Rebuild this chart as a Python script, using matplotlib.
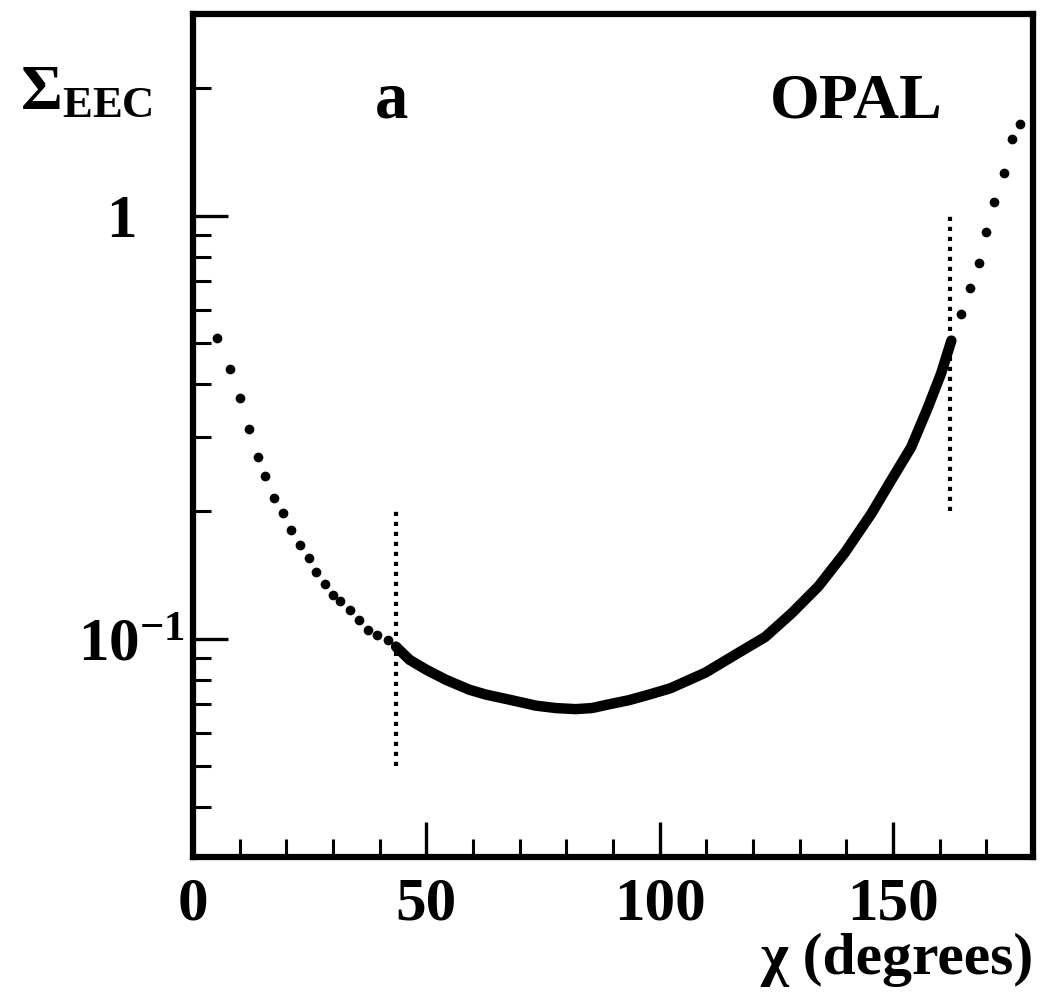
import matplotlib
matplotlib.use("Agg")
import matplotlib.pyplot as plt
from matplotlib.ticker import FixedLocator, LogLocator, NullFormatter, MultipleLocator
from matplotlib.transforms import ScaledTranslation

# EEC data
left_x = [5.1, 7.9, 10.0, 12.0, 13.9, 15.4, 17.3, 19.2, 21.1, 22.9, 24.8, 26.4,
          28.2, 29.9, 31.6, 33.6, 35.5, 37.4, 39.5, 41.7]
left_y = [0.513, 0.435, 0.370, 0.313, 0.269, 0.242, 0.215, 0.198, 0.181, 0.167,
          0.155, 0.144, 0.135, 0.127, 0.123, 0.117, 0.111, 0.105, 0.102, 0.0995]

mid_x = [43.5, 46.4, 50.0, 54.2, 59.2, 62.8, 67.8, 73.5, 77.7, 82.0, 85.5, 89.1,
         93.4, 97.7, 102.3, 109.8, 116.9, 122.6, 128.3, 134.0, 139.7, 145.4,
         149.6, 153.9, 157.5, 160.3, 162.5]
mid_y = [0.0958, 0.0892, 0.0845, 0.080, 0.0758, 0.0738, 0.0718, 0.0695, 0.0686,
         0.0682, 0.0686, 0.0700, 0.0716, 0.0738, 0.0764, 0.0832, 0.0927, 0.101,
         0.115, 0.133, 0.160, 0.198, 0.237, 0.284, 0.353, 0.424, 0.507]

right_x = [164.6, 166.5, 168.4, 169.9, 171.7, 173.8, 175.5, 177.2]
right_y = [0.587, 0.676, 0.774, 0.916, 1.08, 1.26, 1.52, 1.65]

# fit range markers
vline_x = [43.5, 162.2]
vline_lo = [0.05, 0.2]
vline_hi = [0.2, 1.0]

x_ticks = [0, 50, 100, 150]
x_ticklabels = ["0", "50", "100", "150"]
y_ticks = [0.1, 1]
y_ticklabels = [r"$\mathbf{10^{-1}}$", "1"]

plt.rcParams["font.family"] = ["Liberation Serif", "DejaVu Serif"]
plt.rcParams["font.weight"] = "bold"
plt.rcParams["axes.unicode_minus"] = False
plt.rcParams["mathtext.fontset"] = "custom"
plt.rcParams["mathtext.rm"] = "Liberation Serif"
plt.rcParams["mathtext.bf"] = "Liberation Serif:bold"
plt.rcParams["mathtext.it"] = "Liberation Serif:italic"

fig = plt.figure(figsize=(10.4, 10.01), dpi=100)
ax = fig.add_axes([0.1856, 0.1439, 0.8077, 0.8421])

ax.plot(left_x, left_y, "o", color="black", ms=7, mec="none")
ax.plot(mid_x, mid_y, "-", color="black", lw=7.5, solid_capstyle="round")
ax.plot(right_x, right_y, "o", color="black", ms=7, mec="none")
ax.vlines(vline_x, vline_lo, vline_hi, colors="black", lw=3, linestyles=(0, (1, 1.4)))

ax.set_yscale("log")
ax.set_xlim(0, 180)
ax.set_ylim(0.0305, 3.0)

for sp in ax.spines.values():
    sp.set_linewidth(4.5)

ax.xaxis.set_major_locator(FixedLocator(x_ticks))
ax.xaxis.set_minor_locator(MultipleLocator(10))
ax.set_xticklabels(x_ticklabels)
ax.yaxis.set_major_locator(FixedLocator(y_ticks))
ax.yaxis.set_minor_locator(LogLocator(base=10, subs=range(2, 10)))
ax.yaxis.set_minor_formatter(NullFormatter())
ax.set_yticklabels(y_ticklabels)

ax.tick_params(which="both", direction="in", top=False, right=False)
ax.tick_params(which="major", length=25, width=2.4)
ax.tick_params(which="minor", length=13, width=2.2)
ax.tick_params(axis="x", which="major", labelsize=44, pad=14)
ax.tick_params(axis="y", which="major", labelsize=44, pad=6)

# the "1" label sits further left than 10^-1 in the original
for lab, val in zip(ax.get_yticklabels(), y_ticks):
    if val == 1:
        lab.set_transform(lab.get_transform() + ScaledTranslation(-0.48, 0, fig.dpi_scale_trans))

ax.set_xlabel("χ (degrees)", fontsize=43, fontweight="bold", loc="right", labelpad=0)

ax.text(-0.206, 0.905, r"$\Sigma_{\mathbf{EEC}}$", transform=ax.transAxes,
        fontsize=46, ha="left", va="center")
ax.text(0.217, 0.877, "a", transform=ax.transAxes, fontsize=48,
        fontweight="bold", ha="left", va="baseline")
ax.text(0.687, 0.877, "OPAL", transform=ax.transAxes, fontsize=46,
        fontweight="bold", ha="left", va="baseline")

fig.savefig("out.png", dpi=100)
